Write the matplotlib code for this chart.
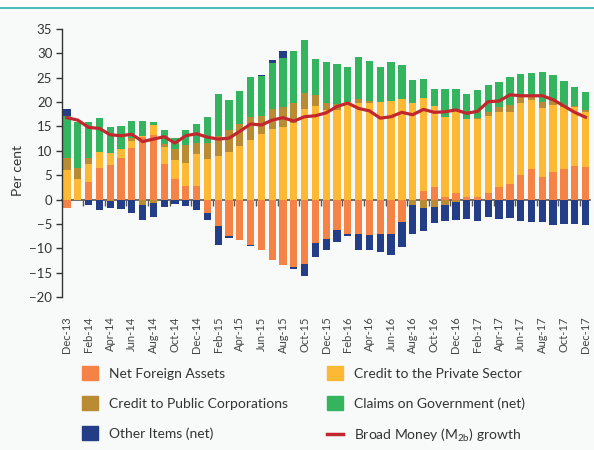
import numpy as np
import matplotlib.pyplot as plt
from matplotlib.patches import Patch, Rectangle
from matplotlib.lines import Line2D

plt.rcParams['font.family'] = ['Lato', 'DejaVu Sans']

# --- Données (contributions à la croissance de M2b, en points de %) ---
mois = ["Dec-13", "Jan-14", "Feb-14", "Mar-14", "Apr-14", "May-14", "Jun-14", "Jul-14",
        "Aug-14", "Sep-14", "Oct-14", "Nov-14", "Dec-14", "Jan-15", "Feb-15", "Mar-15",
        "Apr-15", "May-15", "Jun-15", "Jul-15", "Aug-15", "Sep-15", "Oct-15", "Nov-15",
        "Dec-15", "Jan-16", "Feb-16", "Mar-16", "Apr-16", "May-16", "Jun-16", "Jul-16",
        "Aug-16", "Sep-16", "Oct-16", "Nov-16", "Dec-16", "Jan-17", "Feb-17", "Mar-17",
        "Apr-17", "May-17", "Jun-17", "Jul-17", "Aug-17", "Sep-17", "Oct-17", "Nov-17",
        "Dec-17"]

actifs_exterieurs = [-1.8, 0.0, 3.7, 6.4, 7.0, 8.6, 10.5, 12.9, 13.3, 7.3, 4.2, 2.7, 2.7,
                     -2.8, -5.5, -7.5, -8.3, -9.4, -10.3, -12.4, -13.5, -13.9, -13.2, -9.0,
                     -8.1, -6.3, -7.1, -7.0, -7.3, -7.1, -7.0, -4.7, 0.0, 1.8, 2.6, 0.5,
                     1.4, 0.6, 0.6, 1.4, 2.5, 3.1, 5.1, 6.3, 4.6, 5.7, 6.2, 6.8, 6.6]
credit_prive = [6.0, 4.2, 3.5, 3.4, 2.6, 1.7, 1.6, 0.2, 2.0, 3.4, 3.9, 4.8, 6.6,
                8.3, 9.0, 9.8, 10.9, 12.2, 13.5, 14.5, 14.8, 15.7, 18.5, 19.2,
                18.4, 18.4, 20.1, 19.9, 19.9, 20.0, 20.3, 20.6, 19.8, 19.0, 16.7, 16.4,
                16.8, 16.0, 16.0, 15.8, 15.5, 14.8, 14.7, 14.2, 14.2, 13.7, 12.7, 12.1, 11.4]
credit_public = [2.5, 2.2, 1.3, 0.0, -0.3, 0.0, 0.6, -1.2, -0.8, 0.8, 2.3, 3.7, 2.3,
                 3.3, 4.1, 4.5, 4.6, 4.7, 3.7, 4.1, 4.1, 4.2, 3.4, 2.3,
                 1.5, 1.2, 0.0, 0.7, 0.3, 0.0, 0.0, 0.0, -1.1, -1.8, -1.6, -1.2,
                 -0.6, 0.0, 0.2, 0.7, 0.9, 1.5, 1.2, 0.5, 1.2, 0.8, 0.2, 0.3, 0.4]
creances_etat = [8.7, 9.6, 7.5, 6.9, 5.3, 4.7, 3.4, 3.0, 0.6, 2.8, 2.2, 3.0, 3.9,
                 5.4, 8.5, 6.2, 6.8, 8.2, 8.2, 9.4, 10.2, 10.5, 10.9, 7.4,
                 8.3, 8.3, 7.1, 8.6, 8.3, 7.3, 8.0, 7.0, 4.7, 4.0, 3.3, 5.7,
                 4.4, 5.1, 5.7, 5.6, 5.3, 5.8, 4.8, 4.9, 6.1, 5.4, 5.2, 3.9, 3.6]
autres_postes = [1.3, 0.0, -1.2, -2.1, -1.4, -2.0, -2.8, -3.0, -2.8, -1.6, -1.0, -1.4, -2.1,
                 -1.5, -3.8, -0.4, -0.1, -0.2, 0.1, 0.6, 1.3, -0.4, -2.5, -2.7,
                 -2.2, -2.5, -0.3, -3.3, -3.0, -3.6, -4.3, -5.0, -6.0, -4.6, -3.2, -3.3,
                 -3.6, -4.0, -4.4, -3.5, -4.0, -3.7, -4.5, -4.7, -4.7, -5.3, -5.1, -5.1, -5.3]
croissance_m2b = [16.8, 16.3, 14.8, 14.6, 13.3, 13.1, 13.4, 11.9, 12.4, 12.9, 11.6, 13.1, 13.5,
                  12.8, 12.4, 12.6, 14.0, 15.5, 15.3, 16.3, 16.8, 16.1, 17.0, 17.2,
                  17.8, 19.1, 19.8, 18.7, 18.2, 16.7, 17.0, 17.9, 17.4, 18.5, 17.9, 18.0,
                  18.4, 17.7, 18.1, 20.1, 20.2, 21.5, 21.3, 21.3, 21.3, 20.5, 19.2, 17.9, 16.9]

noms = ["Net Foreign Assets", "Credit to the Private Sector", "Credit to Public Corporations",
        "Claims on Government (net)", "Other Items (net)"]
series = [actifs_exterieurs, credit_prive, credit_public, creances_etat, autres_postes]
couleurs = ["#f58345", "#fdb934", "#b98b32", "#34b45e", "#233e87"]
rouge = "#c1272d"
fond = "#f8f9f9"
gris = "#333333"

# --- Figure ---
fig = plt.figure(figsize=(5.94, 4.5), dpi=100, facecolor=fond)
fig.patches.append(Rectangle((0, 1 - 6.5 / 450), 1, 6.5 / 450, transform=fig.transFigure,
                             facecolor="white", edgecolor="none", zorder=0))
fig.patches.append(Rectangle((0, 1 - 9 / 450), 1, 2.5 / 450, transform=fig.transFigure,
                             facecolor="#4dbdb8", edgecolor="none", zorder=1))

ax = fig.add_axes([62 / 594, 1 - 297 / 450, 528 / 594, 268 / 450])
ax.set_facecolor("none")

x = np.arange(len(mois))
haut = np.zeros(len(mois))
bas = np.zeros(len(mois))
for serie, couleur in zip(series, couleurs):
    v = np.array(serie)
    depart = np.where(v >= 0, haut, bas)
    ax.bar(x, v, 0.68, bottom=depart, color=couleur, linewidth=0, zorder=2)
    haut += np.clip(v, 0, None)
    bas += np.clip(v, None, 0)

ax.plot(x, croissance_m2b, color=rouge, lw=2.3, zorder=4, solid_joinstyle="round")

ax.set_ylim(-20, 35)
ax.set_xlim(-0.46, len(mois) - 0.58)
ax.set_yticks(range(-20, 36, 5))
ax.tick_params(axis="y", labelsize=9.5, colors=gris, length=4, width=1, pad=3)
ax.set_xticks(x[::2])
ax.set_xticklabels(mois[::2], rotation=90, fontsize=8, color="#444444")
ax.tick_params(axis="x", length=0, pad=14)
for cote in ["top", "right", "bottom"]:
    ax.spines[cote].set_visible(False)
ax.spines["left"].set_color(gris)
ax.spines["left"].set_linewidth(1)

# axe du zéro avec petites graduations entre les barres
zero = ax.secondary_xaxis(20 / 55)
zero.set_xticks(np.arange(1.5, len(mois), 2))
zero.tick_params(axis="x", length=4, width=1, colors="#555555", labelbottom=False)
zero.spines["bottom"].set_color("#555555")
zero.spines["bottom"].set_linewidth(1.2)

fig.text(18 / 594, 1 - 170 / 450, "Per cent", rotation=90, ha="center", va="center",
         fontsize=10, color=gris)

# --- Légende en deux colonnes ---
h = [Patch(color=c) for c in couleurs]
ligne = Line2D([], [], color=rouge, lw=2.5)
opts = dict(frameon=False, fontsize=10, labelcolor=gris, handlelength=1.15, handleheight=1.15,
            handletextpad=0.8, labelspacing=1.18, borderpad=0, borderaxespad=0, loc="upper left")
fig.legend([h[0], h[2], h[4]], [noms[0], noms[2], noms[4]],
           bbox_to_anchor=(82 / 594, 1 - 366 / 450), **opts)
fig.legend([h[1], h[3], ligne],
           [noms[1], noms[3], r"Broad Money (M$_{\mathregular{2b}}$) growth"],
           bbox_to_anchor=(327 / 594, 1 - 366 / 450), **opts)

plt.savefig("out.png", dpi=100, facecolor=fond)
